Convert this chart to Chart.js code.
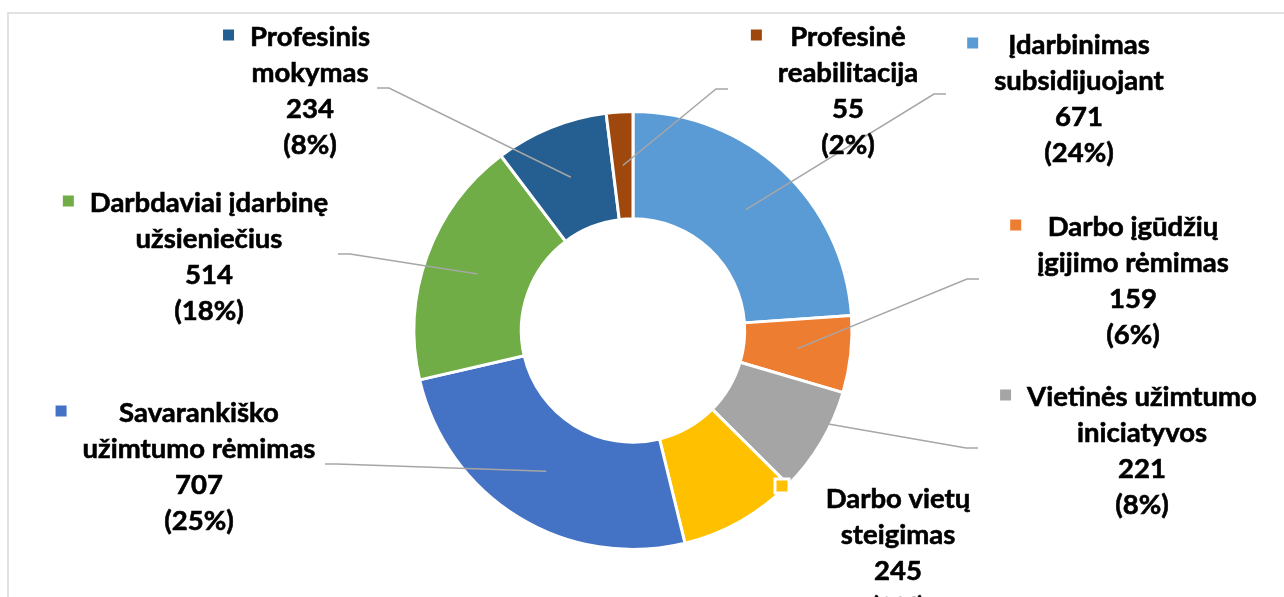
<!DOCTYPE html>
<html>
<head>
<meta charset="utf-8">
<script src="https://cdn.jsdelivr.net/npm/chart.js@4.4.0/dist/chart.umd.min.js"></script>
<style>
  html, body { margin: 0; padding: 0; background: #fff; }
  .chart-box { width: 1284px; height: 597px; position: relative; }
</style>
</head>
<body>
<div class="chart-box"><canvas id="programChart"></canvas></div>
<script>
// data
const categories = [
  "Įdarbinimas\nsubsidijuojant",
  "Darbo įgūdžių\nįgijimo rėmimas",
  "Vietinės užimtumo\niniciatyvos",
  "Darbo vietų\nsteigimas",
  "Savarankiško\nužimtumo rėmimas",
  "Darbdaviai įdarbinę\nužsieniečius",
  "Profesinis\nmokymas",
  "Profesinė\nreabilitacija",
];
const participants = [671, 159, 221, 245, 707, 514, 234, 55];
const sliceColors = ["#5B9BD5", "#ED7D31", "#A5A5A5", "#FFC000", "#4472C4", "#70AD47", "#255E91", "#9E480E"];

// label layout (centre x, first line y, leader line end)
const labelX = [1079, 1133, 1142, 898, 199, 209, 310, 848];
const labelY = [45, 227, 397, 499, 413, 203, 37, 37];
const leaderEnds = [[946, 94], [979, 279], [978, 448], null, [325, 464], [338, 254], [377, 88], [728, 89]];
const keyOverride = [null, null, null, [782, 486], null, null, null, null];

const labelFont = "bold 27.5px Lato";
const lineStep = 36;

const total = participants.reduce((a, b) => a + b, 0);

const framePlugin = {
  id: "frame",
  beforeDraw: (chart) => {
    const ctx = chart.ctx;
    ctx.save();
    ctx.strokeStyle = "#d9d9d9";
    ctx.lineWidth = 1.5;
    ctx.beginPath();
    ctx.moveTo(8, 600);
    ctx.lineTo(8, 13);
    ctx.lineTo(1290, 13);
    ctx.stroke();
    ctx.restore();
  },
};

const outsideLabels = {
  id: "outsideLabels",
  afterDatasetsDraw: (chart) => {
    const ctx = chart.ctx;
    const arcs = chart.getDatasetMeta(0).data;
    const cx = arcs[0].x;
    ctx.save();

    // leader lines
    ctx.strokeStyle = "#a6a6a6";
    ctx.lineWidth = 1.5;
    arcs.forEach((arc, i) => {
      const end = leaderEnds[i];
      if (!end) return;
      const anchor = arc.tooltipPosition();
      const elbowX = end[0] > cx ? end[0] - 12 : end[0] + 12;
      ctx.beginPath();
      ctx.moveTo(anchor.x, anchor.y);
      ctx.lineTo(elbowX, end[1]);
      ctx.lineTo(end[0], end[1]);
      ctx.stroke();
    });

    // text + legend keys
    ctx.font = labelFont;
    ctx.textAlign = "center";
    ctx.textBaseline = "middle";
    ctx.lineWidth = 0.6;
    ctx.strokeStyle = "#000";
    categories.forEach((name, i) => {
      const pct = Math.round((participants[i] / total) * 100);
      const lines = [...name.split("\n"), `${participants[i]}`, `(${pct}%)`];
      let blockLeft = labelX[i];
      lines.forEach((line, k) => {
        ctx.fillStyle = "#000";
        ctx.fillText(line, labelX[i], labelY[i] + k * lineStep);
        ctx.strokeText(line, labelX[i], labelY[i] + k * lineStep);
        blockLeft = Math.min(blockLeft, labelX[i] - ctx.measureText(line).width / 2);
      });
      const size = 11;
      if (keyOverride[i]) {
        const [kx, ky] = keyOverride[i];
        ctx.fillStyle = "#fff";
        ctx.fillRect(kx - size / 2 - 3, ky - size / 2 - 3, size + 6, size + 6);
        ctx.fillStyle = sliceColors[i];
        ctx.fillRect(kx - size / 2, ky - size / 2, size, size);
      } else {
        ctx.fillStyle = sliceColors[i];
        ctx.fillRect(blockLeft - 16 - size, labelY[i] - 2 - size / 2, size, size);
      }
    });
    ctx.restore();
  },
};

const chart = new Chart(document.getElementById("programChart"), {
  type: "doughnut",
  data: {
    labels: categories,
    datasets: [
      {
        data: participants,
        backgroundColor: sliceColors,
        borderColor: "#ffffff",
        borderWidth: 3,
      },
    ],
  },
  options: {
    responsive: true,
    maintainAspectRatio: false,
    animation: false,
    cutout: "51%",
    layout: {
      padding: { top: 110, bottom: 46, left: 0, right: 18 },
    },
    plugins: {
      legend: { display: false },
      tooltip: { enabled: false },
    },
  },
  plugins: [framePlugin, outsideLabels],
});
</script>
</body>
</html>
